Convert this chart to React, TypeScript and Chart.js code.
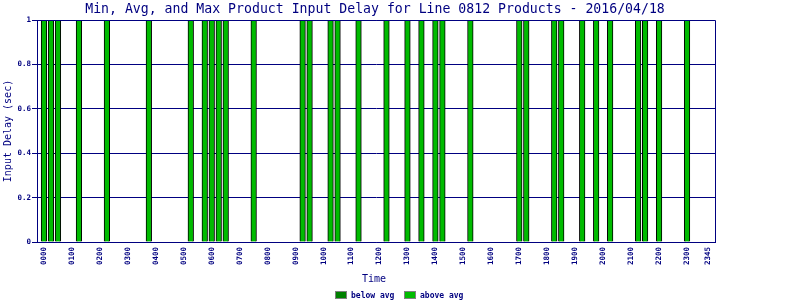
import React, { useEffect, useRef } from 'react';
import { Chart, registerables } from 'chart.js';

Chart.register(...registerables);

const TITLE = 'Min, Avg, and Max Product Input Delay for Line 0812 Products - 2016/04/18';
const Y_TITLE = 'Input Delay (sec)';
const X_TITLE = 'Time';
const LEGEND_LABELS = ['below avg', 'above avg'];

// x tick labels (hourly, plus final slot)
const TICK_LABELS = [
  '0000', '0100', '0200', '0300', '0400', '0500', '0600', '0700', '0800', '0900', '1000', '1100',
  '1200', '1300', '1400', '1500', '1600', '1700', '1800', '1900', '2000', '2100', '2200', '2300', '2345',
];

// 15-minute slots with delay readings
const belowAvgTimes: string[] = [];
const belowAvgValues: number[] = [];

const aboveAvgTimes = [
  '0000', '0015', '0030', '0115', '0215', '0345', '0515', '0545', '0600', '0615', '0630', '0730',
  '0915', '0930', '1015', '1030', '1115', '1215', '1300', '1330', '1400', '1415', '1515', '1700',
  '1715', '1815', '1830', '1915', '1945', '2015', '2115', '2130', '2200', '2300',
];
const aboveAvgValues = [
  1, 1, 1, 1, 1, 1, 1, 1, 1, 1, 1, 1,
  1, 1, 1, 1, 1, 1, 1, 1, 1, 1, 1, 1,
  1, 1, 1, 1, 1, 1, 1, 1, 1, 1,
];

const NAVY = '#000080';
const BELOW_COLOR = '#008000';
const ABOVE_COLOR = '#00bb00';
const MONO = '"DejaVu Sans Mono", "Liberation Mono", monospace';

const slotOf = (t: string) => parseInt(t.slice(0, 2), 10) * 4 + parseInt(t.slice(2), 10) / 15;

const decor = {
  id: 'decor',
  afterDatasetsDraw(chart: any) {
    const { ctx, chartArea } = chart;
    ctx.save();
    ctx.strokeStyle = NAVY;
    ctx.lineWidth = 1;
    ctx.beginPath();
    ctx.moveTo(chartArea.left, chartArea.top + 0.5);
    ctx.lineTo(chartArea.right + 0.5, chartArea.top + 0.5);
    ctx.lineTo(chartArea.right + 0.5, chartArea.bottom);
    ctx.stroke();
    ctx.restore();
  },
  afterDraw(chart: any) {
    const { ctx } = chart;
    ctx.save();
    ctx.fillStyle = NAVY;
    ctx.textAlign = 'center';
    ctx.textBaseline = 'alphabetic';
    ctx.font = `13.2px ${MONO}`;
    ctx.fillText(TITLE, 375, 13);
    ctx.font = `10px ${MONO}`;
    ctx.fillText(X_TITLE, 374, 282);
    ctx.save();
    ctx.translate(11, 131);
    ctx.rotate(-Math.PI / 2);
    ctx.fillText(Y_TITLE, 0, 0);
    ctx.restore();
    // legend
    const items = [
      { x: 335, color: BELOW_COLOR, label: LEGEND_LABELS[0] },
      { x: 404, color: ABOVE_COLOR, label: LEGEND_LABELS[1] },
    ];
    ctx.font = `bold 8px ${MONO}`;
    ctx.textAlign = 'left';
    ctx.textBaseline = 'middle';
    items.forEach((it) => {
      ctx.fillStyle = it.color;
      ctx.fillRect(it.x, 291, 12, 8);
      ctx.strokeStyle = '#808080';
      ctx.lineWidth = 1;
      ctx.strokeRect(it.x + 0.5, 291.5, 11, 7);
      ctx.fillStyle = NAVY;
      ctx.fillText(it.label, it.x + 16, 295.5);
    });
    ctx.restore();
  },
};

export default function App() {
  const ref = useRef<HTMLCanvasElement>(null);
  useEffect(() => {
    document.body.style.margin = '0';
    const canvas = ref.current!;
    const tickSlots = TICK_LABELS.map(slotOf);
    const chart = new Chart(canvas, {
      type: 'bar',
      data: {
        datasets: [
          {
            label: LEGEND_LABELS[0],
            data: belowAvgTimes.map((t, i) => ({ x: slotOf(t), y: belowAvgValues[i] })),
            backgroundColor: BELOW_COLOR,
            borderColor: '#000000',
            borderWidth: 1,
            barThickness: 5.6,
            grouped: false,
          },
          {
            label: LEGEND_LABELS[1],
            data: aboveAvgTimes.map((t, i) => ({ x: slotOf(t), y: aboveAvgValues[i] })),
            backgroundColor: ABOVE_COLOR,
            borderColor: '#000000',
            borderWidth: 1,
            barThickness: 5.6,
            grouped: false,
          },
        ],
      } as any,
      options: {
        responsive: false,
        animation: false,
        layout: { padding: { top: 20, right: 85, left: 0, bottom: 0 } },
        plugins: {
          legend: { display: false },
          title: { display: false },
          tooltip: { enabled: false },
        },
        scales: {
          x: {
            type: 'linear',
            min: -1,
            max: 96,
            offset: false,
            afterBuildTicks: (s: any) => {
              s.ticks = tickSlots.map((v) => ({ value: v }));
            },
            afterFit: (s: any) => {
              s.height = 58;
            },
            grid: { display: false, drawTicks: false, offset: false },
            border: { color: NAVY, width: 1 },
            ticks: {
              autoSkip: false,
              minRotation: 90,
              maxRotation: 90,
              padding: 5,
              color: NAVY,
              font: { family: MONO, size: 7.5, weight: 'bold' },
              callback: (_v: any, i: number) => TICK_LABELS[i],
            },
          },
          y: {
            min: 0,
            max: 1,
            afterFit: (s: any) => {
              s.width = 37;
            },
            grid: { color: NAVY, lineWidth: 1, tickLength: 5 },
            border: { color: NAVY, width: 1 },
            ticks: {
              stepSize: 0.2,
              padding: 1,
              color: NAVY,
              font: { family: MONO, size: 7.5, weight: 'bold' },
              callback: (v: any) => String(Number(Number(v).toFixed(1))),
            },
          },
        },
      } as any,
      plugins: [decor],
    });
    return () => chart.destroy();
  }, []);
  return (
    <div style={{ width: 800, height: 300, position: 'relative' }}>
      <canvas ref={ref} width={800} height={300} />
    </div>
  );
}
